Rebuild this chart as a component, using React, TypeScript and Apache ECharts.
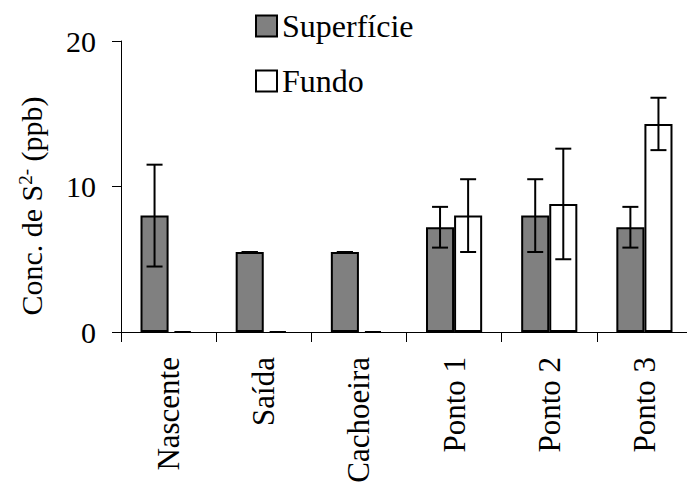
import React, { useEffect, useRef } from "react";
import * as echarts from "echarts";

const categories = ["Nascente", "Saída", "Cachoeira", "Ponto 1", "Ponto 2", "Ponto 3"];
const superficie = [8.0, 5.5, 5.5, 7.2, 8.0, 7.2];
const superficieErr = [3.5, 0, 0, 1.4, 2.5, 1.4];
const fundo = [0, 0, 0, 8.0, 8.8, 14.3];
const fundoErr = [0, 0, 0, 2.5, 3.8, 1.8];
const seriesNames = ["Superfície", "Fundo"];
const yMin = 0;
const yMax = 20;
const yInterval = 10;

const FONT = "Liberation Serif, Times New Roman, DejaVu Serif";
const BAR_FRAC = 0.295;

function errorSeries(values: number[], errs: number[], sign: number, name: string) {
  return {
    type: "custom",
    name: name + "-err",
    z: 5,
    silent: true,
    encode: { x: 0, y: 1 },
    data: values.map((v, i) => [i, v, errs[i]]),
    renderItem: (params: any, api: any) => {
      const i = api.value(0);
      const v = api.value(1);
      const e = api.value(2);
      const band = api.size([1, 0])[0];
      const off = (sign * band * BAR_FRAC) / 2;
      const top = api.coord([i, v + e]);
      const bot = api.coord([i, Math.max(0, v - e)]);
      const x = top[0] + off;
      const cap = 8;
      const st = { stroke: "#000", lineWidth: 2 };
      return {
        type: "group",
        children: [
          { type: "line", shape: { x1: x, y1: top[1], x2: x, y2: bot[1] }, style: st },
          { type: "line", shape: { x1: x - cap, y1: top[1], x2: x + cap, y2: top[1] }, style: st },
          { type: "line", shape: { x1: x - cap, y1: bot[1], x2: x + cap, y2: bot[1] }, style: st },
        ],
      };
    },
  };
}

export default function App() {
  const ref = useRef<HTMLDivElement>(null);
  useEffect(() => {
    if (!ref.current) return;
    const chart = echarts.init(ref.current, undefined, { renderer: "svg" });
    const barData = (arr: number[]) =>
      arr.map((v) => (v === 0 ? { value: v, itemStyle: { borderWidth: 0 } } : v));
    chart.setOption({
      animation: false,
      backgroundColor: "#fff",
      textStyle: { fontFamily: FONT },
      grid: {
        left: 121,
        top: 41,
        bottom: 150,
        right: -5,
        containLabel: false,
        outerBoundsMode: "none",
      },
      legend: {
        orient: "vertical",
        left: 255,
        top: 9,
        padding: 0,
        itemWidth: 21,
        itemHeight: 21,
        itemGap: 21,
        icon: "rect",
        data: seriesNames,
        textStyle: { fontFamily: FONT, fontSize: 32, color: "#000", lineHeight: 34 },
        itemStyle: { borderColor: "#000", borderWidth: 2 },
      },
      xAxis: {
        type: "category",
        data: categories,
        axisLine: { lineStyle: { color: "#000", width: 1 } },
        axisTick: { show: true, length: 10, inside: false, lineStyle: { color: "#000" } },
        axisLabel: {
          rotate: 90,
          margin: 25,
          fontSize: 31,
          fontFamily: FONT,
          color: "#000",
          interval: 0,
        },
      },
      yAxis: {
        type: "value",
        min: yMin,
        max: yMax,
        interval: yInterval,
        splitLine: { show: false },
        axisLine: { show: true, lineStyle: { color: "#000", width: 1 } },
        axisTick: { show: true, length: 9, lineStyle: { color: "#000" } },
        axisLabel: { fontSize: 30, fontFamily: FONT, color: "#000", margin: 25 },
      },
      graphic: [
        {
          type: "text",
          x: 31,
          y: 206,
          rotation: Math.PI / 2,
          style: {
            text: "{a|Conc. de S}{b|2-}{a| (ppb)}",
            align: "center",
            verticalAlign: "middle",
            fill: "#000",
            fontFamily: FONT,
            rich: {
              a: { fontSize: 30, fontFamily: FONT, fill: "#000", color: "#000" },
              b: { fontSize: 19, fontFamily: FONT, fill: "#000", color: "#000", verticalAlign: "top" },
            },
          },
        },
      ],
      series: [
        {
          type: "bar",
          name: seriesNames[0],
          data: barData(superficie),
          barWidth: BAR_FRAC * 100 + "%",
          barGap: "0%",
          itemStyle: { color: "#808080", borderColor: "#000", borderWidth: 2 },
        },
        {
          type: "bar",
          name: seriesNames[1],
          data: barData(fundo),
          barWidth: BAR_FRAC * 100 + "%",
          barGap: "0%",
          itemStyle: { color: "#fff", borderColor: "#000", borderWidth: 2 },
        },
        errorSeries(superficie, superficieErr, -1, seriesNames[0]),
        errorSeries(fundo, fundoErr, 1, seriesNames[1]),
      ],
    });
    return () => chart.dispose();
  }, []);
  return (
    <div
      ref={ref}
      style={{ position: "absolute", left: 0, top: 0, width: 687, height: 482 }}
    />
  );
}
